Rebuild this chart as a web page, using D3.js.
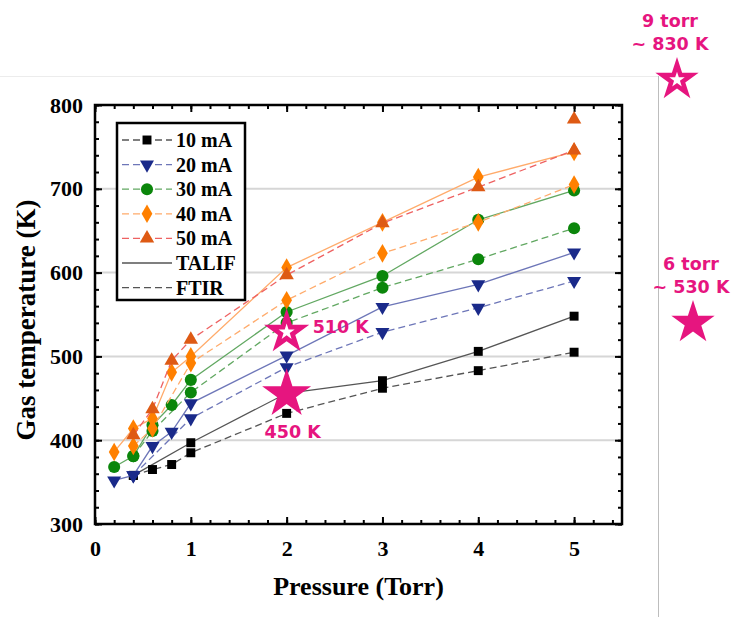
<!DOCTYPE html>
<html>
<head>
<meta charset="utf-8">
<script src="https://cdn.jsdelivr.net/npm/d3@7"></script>
<style>
  body { margin: 0; background: #fff; }
  svg text { font-family: "Liberation Serif", "Times New Roman", serif; font-weight: bold; }
  .note { font-family: "DejaVu Sans", Verdana, sans-serif !important; fill: #e6157f; }
</style>
</head>
<body>
<script>
// ---- data (pressure in Torr, gas temperature in K) ----
var currents = ["10 mA", "20 mA", "30 mA", "40 mA", "50 mA"];
var xTicks = [0, 1, 2, 3, 4, 5];
var yTicks = [300, 400, 500, 600, 700, 800];

// TALIF (solid)
var p10T = [0.4, 1, 2, 3, 4, 5],                 t10T = [358, 397, 456, 471, 506, 548];
var p20T = [0.2, 0.4, 0.6, 0.8, 1, 2, 3, 4, 5],  t20T = [352, 358, 393, 410, 444, 501, 559, 586, 624];
var p30T = [0.2, 0.4, 0.6, 0.8, 1, 2, 3, 4, 5],  t30T = [368, 381, 418, 442, 472, 553, 596, 663, 698];
var p40T = [0.2, 0.4, 0.6, 0.8, 1, 2, 3, 4, 5],  t40T = [386, 414, 426, 481, 500, 606, 660, 714, 744];
var p50T = [5],                                  t50T = [783];

// FTIR (dashed)
var p10F = [0.4, 0.6, 0.8, 1, 2, 3, 4, 5],       t10F = [358, 365, 371, 385, 432, 462, 483, 505];
var p20F = [0.4, 1, 2, 3, 4, 5],                 t20F = [358, 426, 487, 529, 558, 590];
var p30F = [0.4, 0.6, 1, 2, 3, 4, 5],            t30F = [381, 411, 457, 540, 582, 616, 653];
var p40F = [0.4, 0.6, 1, 2, 3, 4, 5],            t40F = [393, 414, 492, 567, 623, 660, 705];
var p50F = [0.4, 0.6, 0.8, 1, 2, 3, 4, 5],       t50F = [406, 437, 495, 520, 597, 659, 702, 746];

// highlighted points
var starP = [2, 2], starT = [529, 455], starHollow = [true, false], starLabel = ["510 K", "450 K"];
var sideT = [830, 540], sideHollow = [true, false], sideTop = ["9 torr", "6 torr"], sideBottom = ["~ 830 K", "~ 530 K"];

var markerCol = ["#000000", "#1a2a8a", "#0b860b", "#ff8000", "#de5a14"];
var lineCol   = ["#555555", "#6d76b8", "#62a862", "#ffab6b", "#ee6262"];
var shapes = [d3.symbolSquare, d3.symbolTriangle, d3.symbolCircle, d3.symbolDiamond, d3.symbolTriangle];
var sizes = [80, 85, 115, 100, 90];
var rot = [0, 180, 0, 0, 0];
var pink = "#e6157f";

var talif = [[p10T, t10T], [p20T, t20T], [p30T, t30T], [p40T, t40T], [p50T, t50T]];
var ftir  = [[p10F, t10F], [p20F, t20F], [p30F, t30F], [p40F, t40F], [p50F, t50F]];

var width = 732, height = 617;
var svg = d3.select("body").append("svg")
    .attr("width", width).attr("height", height);

// faint slide frame
svg.append("line").attr("x1", 0).attr("x2", 658).attr("y1", 76.5).attr("y2", 76.5)
    .attr("stroke", "#ececec").attr("stroke-width", 1);
svg.append("line").attr("x1", 658.5).attr("x2", 658.5).attr("y1", 76).attr("y2", 617)
    .attr("stroke", "#bdbdbd").attr("stroke-width", 1);

var x = d3.scaleLinear().domain([0, 5.5]).range([95, 622]);
var y = d3.scaleLinear().domain([300, 800]).range([524, 105]);

// grid
svg.append("g").selectAll("line")
    .data([400, 500, 600, 700])
  .enter().append("line")
    .attr("x1", x(0)).attr("x2", x(5.5))
    .attr("y1", d => y(d)).attr("y2", d => y(d))
    .attr("stroke", "#d6d6d6").attr("stroke-width", 2);

var xMinor = d3.range(0, 5.45, 0.2), yMinor = d3.range(300, 801, 20);

function ticks(axis, vals, size, transform, labels) {
  var g = svg.append("g").attr("transform", transform)
      .call(axis.tickValues(vals).tickSize(size).tickPadding(labels ? 10 : 0)
        .tickFormat(labels ? d3.format("d") : ""));
  g.select(".domain").remove();
  g.selectAll("line").attr("stroke", "#000").attr("stroke-width", 2);
  g.selectAll("text").attr("fill", "#000").style("font-size", "22px");
  return g;
}
ticks(d3.axisBottom(x), xMinor, -4, "translate(0," + y(300) + ")", false);
ticks(d3.axisBottom(x), xTicks, -7, "translate(0," + y(300) + ")", true)
    .selectAll("text").attr("dy", "1.0em");
ticks(d3.axisTop(x), xMinor, -4, "translate(0," + y(800) + ")", false);
ticks(d3.axisTop(x), xTicks, -7, "translate(0," + y(800) + ")", false);
ticks(d3.axisLeft(y), yMinor, -4, "translate(" + x(0) + ",0)", false);
ticks(d3.axisLeft(y), yTicks, -7, "translate(" + x(0) + ",0)", true)
    .selectAll("text").attr("x", -12);
ticks(d3.axisRight(y), yMinor, -4, "translate(" + x(5.5) + ",0)", false);
ticks(d3.axisRight(y), yTicks, -7, "translate(" + x(5.5) + ",0)", false);

svg.append("rect")
    .attr("x", x(0)).attr("y", y(800))
    .attr("width", x(5.5) - x(0)).attr("height", y(300) - y(800))
    .attr("fill", "none").attr("stroke", "#000").attr("stroke-width", 2.5);

// axis titles
svg.append("text").attr("x", (x(0) + x(5.5)) / 2).attr("y", 595)
    .attr("text-anchor", "middle").style("font-size", "26px").text("Pressure (Torr)");
svg.append("text").attr("transform", "translate(35," + 320 + ") rotate(-90)")
    .attr("text-anchor", "middle").style("font-size", "27px").text("Gas temperature (K)");

var line = d3.line().x(d => x(d[0])).y(d => y(d[1]));
function pts(s) { return s[0].map((p, i) => [p, s[1][i]]); }
function sym(i) { return d3.symbol().type(shapes[i]).size(sizes[i])(); }

currents.forEach(function(c, i) {
  var a = pts(talif[i]), b = pts(ftir[i]);
  var g = svg.append("g");
  if (a.length > 1)
    g.append("path").attr("d", line(a)).attr("fill", "none")
      .attr("stroke", lineCol[i]).attr("stroke-width", 1.3);
  g.append("path").attr("d", line(b)).attr("fill", "none")
    .attr("stroke", lineCol[i]).attr("stroke-width", 1.3).attr("stroke-dasharray", "7,4");
  g.selectAll(".m").data(a.concat(b)).enter().append("path")
    .attr("d", sym(i))
    .attr("transform", d => "translate(" + x(d[0]) + "," + y(d[1]) + ") rotate(" + rot[i] + ")")
    .attr("fill", markerCol[i]);
});

// legend
var lg = svg.append("g").attr("transform", "translate(117,123)");
lg.append("rect").attr("width", 128).attr("height", 177)
    .attr("fill", "#fff").attr("stroke", "#000").attr("stroke-width", 2.5);
var rows = currents.concat(["TALIF", "FTIR"]);
rows.forEach(function(r, i) {
  var ry = 17 + i * 24.6;
  var col = i < 5 ? lineCol[i] : "#555";
  lg.append("line").attr("x1", 5).attr("x2", 55).attr("y1", ry).attr("y2", ry)
    .attr("stroke", col).attr("stroke-width", 1.3)
    .attr("stroke-dasharray", r == "TALIF" ? null : "7,4");
  if (i < 5)
    lg.append("path").attr("d", sym(i))
      .attr("transform", "translate(30," + ry + ") rotate(" + rot[i] + ")")
      .attr("fill", markerCol[i]);
  lg.append("text").attr("x", 59).attr("y", ry).attr("dy", "0.35em")
    .style("font-size", "20px").text(r);
});

// stars
function star(g, cx, cy, r, hollow) {
  var s = d3.symbol().type(d3.symbolStar);
  g.append("path").attr("d", s.size(r * r * 1.1)())
    .attr("transform", "translate(" + cx + "," + cy + ")").attr("fill", pink);
  if (hollow)
    g.append("path").attr("d", s.size(r * r * 0.14)())
      .attr("transform", "translate(" + cx + "," + cy + ")").attr("fill", "#fff");
}
var sg = svg.append("g");
starP.forEach(function(p, i) {
  star(sg, x(p), y(starT[i]), i == 0 ? 24 : 26, starHollow[i]);
});
sg.append("text").attr("class", "note").attr("x", x(2) + 26).attr("y", y(starT[0]) - 5)
    .attr("dy", "0.35em").style("font-size", "17.5px").text(starLabel[0]);
sg.append("text").attr("class", "note").attr("x", x(2) + 6).attr("y", y(starT[1]) + 38)
    .attr("dy", "0.35em").attr("text-anchor", "middle").style("font-size", "17.5px").text(starLabel[1]);

var sideX = [677, 693], sideTextX = [670, 691];
sideT.forEach(function(t, i) {
  star(sg, sideX[i], y(t), 23, sideHollow[i]);
  sg.append("text").attr("class", "note").attr("x", sideTextX[i]).attr("y", y(t) - 59)
    .attr("text-anchor", "middle").attr("dy", "0.35em").style("font-size", "17.5px").text(sideTop[i]);
  sg.append("text").attr("class", "note").attr("x", sideTextX[i]).attr("y", y(t) - 36)
    .attr("text-anchor", "middle").attr("dy", "0.35em").style("font-size", "17.5px").text(sideBottom[i]);
});
</script>
</body>
</html>
